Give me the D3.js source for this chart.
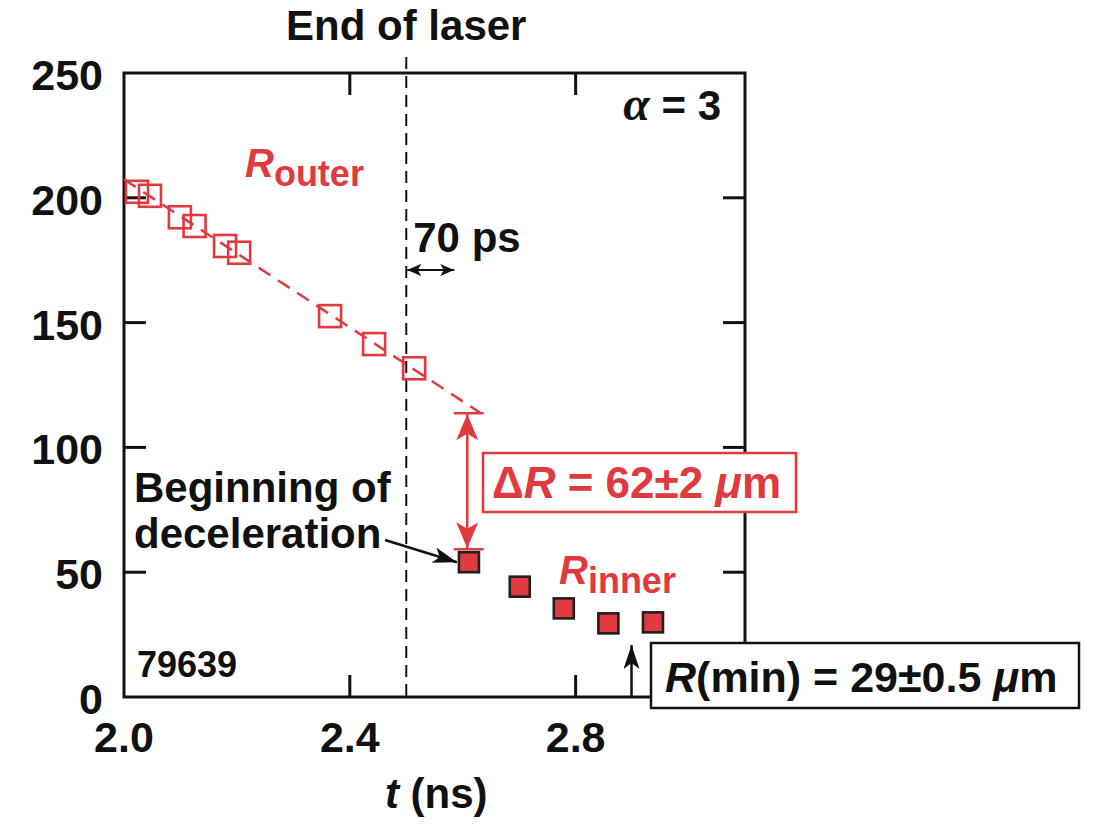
<!DOCTYPE html>
<html>
<head>
<meta charset="utf-8">
<script src="https://cdn.jsdelivr.net/npm/d3@7"></script>
<style>
  html, body { margin: 0; padding: 0; background: #fff; }
  svg { display: block; font-family: 'Liberation Sans', Arial, sans-serif; font-weight: bold; }
</style>
</head>
<body>
<div id="chart"></div>
<script>
// data
const outerT = [2.023, 2.046, 2.099, 2.125, 2.179, 2.204, 2.365, 2.443, 2.514];
const outerR = [202.4, 200.8, 192.2, 188.7, 180.7, 178.0, 152.6, 141.4, 131.7];
const innerT = [2.611, 2.701, 2.779, 2.858, 2.937];
const innerR = [54.0, 44.2, 35.5, 29.5, 29.9];
const fitT = [2.0, 2.632];
const fitR = [207.4, 113.7];
const xTicks = [2.0, 2.4, 2.8];
const yTicks = [0, 50, 100, 150, 200, 250];
const laserEnd = 2.5;

const RED = '#e0393e';
const INK = '#111';

const W = 1094, H = 830;
const M = { left: 124, top: 73, right: 349, bottom: 133 };

const svg = d3.select('#chart').append('svg')
  .attr('width', W).attr('height', H);

const defs = svg.append('defs');
function marker(id, color, len, wid) {
  defs.append('marker')
    .attr('id', id)
    .attr('viewBox', `0 0 ${len} ${wid}`)
    .attr('refX', len).attr('refY', wid / 2)
    .attr('markerUnits', 'userSpaceOnUse')
    .attr('markerWidth', len).attr('markerHeight', wid)
    .attr('orient', 'auto-start-reverse')
    .append('path')
    .attr('d', `M0,0 L${len},${wid / 2} L0,${wid} L${len * 0.25},${wid / 2} Z`)
    .attr('fill', color);
}
marker('headRed', RED, 26, 22);
marker('headBlk', INK, 24, 16);
marker('headSm', INK, 14, 12);

const x = d3.scaleLinear().domain([2.0, 3.1]).range([M.left, W - M.right]);
const y = d3.scaleLinear().domain([0, 250]).range([H - M.bottom, M.top]);

const x0 = x.range()[0], x1 = x.range()[1];
const y0 = y.range()[0], y1 = y.range()[1];

// frame
svg.append('rect')
  .attr('x', x0).attr('y', y1)
  .attr('width', x1 - x0).attr('height', y0 - y1)
  .attr('fill', 'none').attr('stroke', INK).attr('stroke-width', 3);

// inward ticks on all four sides
const tickLen = 22;
const g = svg.append('g').attr('stroke', INK).attr('stroke-width', 3);
yTicks.filter(v => v > 0 && v < 250).forEach(v => {
  g.append('line').attr('x1', x0).attr('x2', x0 + tickLen).attr('y1', y(v)).attr('y2', y(v));
  g.append('line').attr('x1', x1).attr('x2', x1 - tickLen).attr('y1', y(v)).attr('y2', y(v));
});
xTicks.filter(v => v > 2.0).forEach(v => {
  g.append('line').attr('x1', x(v)).attr('x2', x(v)).attr('y1', y0).attr('y2', y0 - tickLen);
  g.append('line').attr('x1', x(v)).attr('x2', x(v)).attr('y1', y1).attr('y2', y1 + tickLen);
});

// tick labels
svg.append('g').selectAll('text').data(yTicks).join('text')
  .attr('x', 103).attr('y', d => y(d) + 17)
  .attr('text-anchor', 'end').attr('font-size', 43).attr('fill', INK)
  .text(d => d);
svg.append('g').selectAll('text').data(xTicks).join('text')
  .attr('x', d => x(d)).attr('y', 752)
  .attr('text-anchor', 'middle').attr('font-size', 43).attr('fill', INK)
  .text(d => d.toFixed(1));

// axis title
const xt = svg.append('text').attr('x', x(2.5) + 30).attr('y', 808)
  .attr('text-anchor', 'middle').attr('font-size', 42).attr('fill', INK);
xt.append('tspan').attr('font-style', 'italic').text('t');
xt.append('tspan').text(' (ns)');

// end of laser
svg.append('line')
  .attr('x1', x(laserEnd)).attr('x2', x(laserEnd))
  .attr('y1', y1 - 16).attr('y2', y0)
  .attr('stroke', INK).attr('stroke-width', 2).attr('stroke-dasharray', '12,7');
svg.append('text').attr('x', x(laserEnd)).attr('y', 40)
  .attr('text-anchor', 'middle').attr('font-size', 42).attr('fill', INK)
  .text('End of laser');

// 70 ps
svg.append('line')
  .attr('x1', x(laserEnd) + 1).attr('x2', x(laserEnd + 0.085))
  .attr('y1', 270).attr('y2', 270)
  .attr('stroke', INK).attr('stroke-width', 2)
  .attr('marker-start', 'url(#headSm)').attr('marker-end', 'url(#headSm)');
svg.append('text').attr('x', x(laserEnd) + 7).attr('y', 252)
  .attr('font-size', 42).attr('fill', INK).text('70 ps');

// alpha label
const al = svg.append('text').attr('x', x1 - 24).attr('y', 120)
  .attr('text-anchor', 'end').attr('font-size', 42).attr('fill', INK);
al.append('tspan').attr('font-family', "'Liberation Serif', serif").attr('font-style', 'italic').attr('font-size', 48).text('α');
al.append('tspan').text(' = 3');

// outer fit line
svg.append('line')
  .attr('x1', x(fitT[0])).attr('y1', y(fitR[0]))
  .attr('x2', x(fitT[1])).attr('y2', y(fitR[1]))
  .attr('stroke', RED).attr('stroke-width', 2.5).attr('stroke-dasharray', '14,9');

// outer points (open squares)
const sO = 22;
svg.append('g').selectAll('rect').data(outerT).join('rect')
  .attr('x', (d) => x(d) - sO / 2)
  .attr('y', (d, i) => y(outerR[i]) - sO / 2)
  .attr('width', sO).attr('height', sO)
  .attr('fill', 'none').attr('stroke', RED).attr('stroke-width', 2.6);

// R outer label
const ro = svg.append('text').attr('x', 245).attr('y', 177).attr('fill', RED).attr('font-size', 40);
ro.append('tspan').attr('font-style', 'italic').text('R');
ro.append('tspan').attr('dy', 9).attr('font-size', 36).text('outer');

// delta R marker
const capT = [2.584, 2.637];
const capR = [fitR[1], 59.2];
const dr = svg.append('g').attr('stroke', RED).attr('stroke-width', 2.5);
capR.forEach(v => {
  dr.append('line').attr('x1', x(capT[0])).attr('x2', x(capT[1])).attr('y1', y(v)).attr('y2', y(v));
});
dr.append('line')
  .attr('x1', x(2.608)).attr('x2', x(2.608))
  .attr('y1', y(capR[0]) + 1).attr('y2', y(capR[1]) - 1)
  .attr('marker-start', 'url(#headRed)').attr('marker-end', 'url(#headRed)');

svg.append('rect').attr('x', 483).attr('y', 453).attr('width', 313).attr('height', 59)
  .attr('fill', '#fff').attr('stroke', RED).attr('stroke-width', 2.5);
const dt = svg.append('text').attr('x', 492).attr('y', 498).attr('fill', RED).attr('font-size', 44);
dt.append('tspan').text('Δ');
dt.append('tspan').attr('font-style', 'italic').text('R');
dt.append('tspan').text(' = 62±2 ');
dt.append('tspan').attr('font-style', 'italic').text('μ');
dt.append('tspan').text('m');

// inner points (filled squares)
const sI = 20;
svg.append('g').selectAll('rect').data(innerT).join('rect')
  .attr('x', (d) => x(d) - sI / 2)
  .attr('y', (d, i) => y(innerR[i]) - sI / 2)
  .attr('width', sI).attr('height', sI)
  .attr('fill', RED).attr('stroke', '#231f20').attr('stroke-width', 2.6);

// R inner label
const ri = svg.append('text').attr('x', 559).attr('y', 584).attr('fill', RED).attr('font-size', 40);
ri.append('tspan').attr('font-style', 'italic').text('R');
ri.append('tspan').attr('dy', 9).attr('font-size', 36).text('inner');

// beginning of deceleration
const bd = svg.append('text').attr('x', 134).attr('y', 502).attr('font-size', 42).attr('fill', INK);
bd.append('tspan').text('Beginning of');
bd.append('tspan').attr('x', 134).attr('dy', 46).text('deceleration');
svg.append('line')
  .attr('x1', 385).attr('y1', 540)
  .attr('x2', x(innerT[0]) - sI / 2 - 2).attr('y2', y(innerR[0]))
  .attr('stroke', INK).attr('stroke-width', 2.5).attr('marker-end', 'url(#headBlk)');

// R(min)
svg.append('line')
  .attr('x1', x(2.899)).attr('x2', x(2.899))
  .attr('y1', y0).attr('y2', 645)
  .attr('stroke', INK).attr('stroke-width', 2.5).attr('marker-end', 'url(#headBlk)');
svg.append('rect').attr('x', 651).attr('y', 643).attr('width', 428).attr('height', 65)
  .attr('fill', '#fff').attr('stroke', INK).attr('stroke-width', 2.5);
const rm = svg.append('text').attr('x', 665).attr('y', 692).attr('font-size', 43).attr('fill', INK);
rm.append('tspan').attr('font-style', 'italic').text('R');
rm.append('tspan').text('(min) = 29±0.5 ');
rm.append('tspan').attr('font-style', 'italic').text('μ');
rm.append('tspan').text('m');

// shot number
svg.append('text').attr('x', 137).attr('y', 677).attr('font-size', 36).attr('fill', INK).text('79639');
</script>
</body>
</html>
